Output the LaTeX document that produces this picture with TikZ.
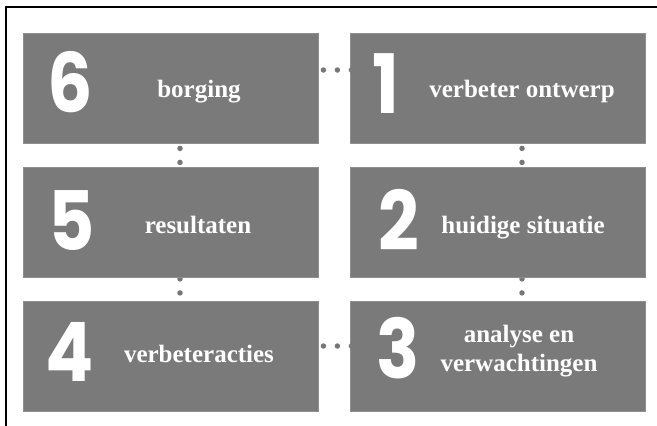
\documentclass[tikz,border=0pt]{standalone}
\usepackage{fontspec}
\setmainfont{Liberation Serif}
\newfontfamily\digitfont{Poppins}
\usetikzlibrary{calc}
\definecolor{boxgray}{HTML}{7A7A7A}
\definecolor{dotgray}{HTML}{777777}
\newcommand{\bigdigit}[1]{\scalebox{0.87}[1]{#1}}
\tikzset{
  stepbox/.style={rectangle, fill=boxgray, draw=boxgray!85!white, line width=0.8pt, minimum width=295pt, minimum height=110pt, inner sep=0pt},
  bignum/.style={text=white, font=\digitfont\bfseries\fontsize{82}{82}\selectfont, inner sep=0pt},
  label/.style={text=white, font=\bfseries\fontsize{25}{29}\selectfont, inner sep=0pt, anchor=base, align=center},
  dotconn/.style={dotgray, line width=5.5pt, line cap=round, dash pattern=on 0pt off 14pt},
  frameline/.style={black, line width=1.2pt}
}
\begin{document}
\begin{tikzpicture}[x=1pt, y=-1pt]
\useasboundingbox (0,0) rectangle (657,426);
\fill[white] (0,0) rectangle (657,426);
\coordinate (ftl) at (6,7);
\coordinate (ftr) at (657,7);
\coordinate (fbl) at (6,426);
\draw[frameline] (ftr) -- (ftl) -- (fbl);

\coordinate (c61a) at (318,70);  \coordinate (c61b) at (350,70);
\coordinate (c43a) at (318,346); \coordinate (c43b) at (350,346);

\node[stepbox] (b6) at (170.5,88) {};
\node[stepbox] (b1) at (497.5,88) {};
\node[stepbox] (b5) at (170.5,222.5) {};
\node[stepbox] (b2) at (497.5,222.5) {};
\node[stepbox] (b4) at (170.5,356.5) {};
\node[stepbox] (b3) at (497.5,356.5) {};

\begin{scope}
\clip (318,0) rectangle (350.5,426);
\draw[dotconn, dash phase=9pt] (b6.east |- c61a) -- ($(b1.west |- c61b)+(6,0)$);
\draw[dotconn, dash phase=9pt] (b4.east |- c43a) -- ($(b3.west |- c43b)+(6,0)$);
\end{scope}
\draw[dotconn, dash phase=9pt] ($(b6.south)+(9.5,0)$) -- ($(b5.north)+(9.5,0)$);
\draw[dotconn, dash phase=9pt] ($(b1.south)+(24.5,0)$) -- ($(b2.north)+(24.5,0)$);
\begin{scope}
\clip (0,278.3) rectangle (657,302);
\draw[dotconn, dash phase=13pt] ($(b5.south)+(9.5,0)$) -- ($(b4.north)+(9.5,0)$);
\draw[dotconn, dash phase=13pt] ($(b2.south)+(24.5,0)$) -- ($(b3.north)+(24.5,0)$);
\end{scope}

\node[bignum] (n6) at (70,82) {\bigdigit{6}};
\node[bignum] (n1) at (386,84) {\bigdigit{1}};
\node[bignum] (n5) at (72,221) {\bigdigit{5}};
\node[bignum] (n2) at (399,220) {\bigdigit{2}};
\node[bignum] (n4) at (70,352) {\bigdigit{4}};
\node[bignum] (n3) at (398,348) {\bigdigit{3}};

\node[label] (t6) at (199,97) {borging};
\node[label] (t1) at (522,97) {verbeter ontwerp};
\node[label] (t5) at (198,233) {resultaten};
\node[label] (t2) at (523,233) {huidige situatie};
\node[label] (t4) at (199,362) {verbeteracties};
\node[label, anchor=north] (t3) at (519,325) {analyse en\\verwachtingen};
\end{tikzpicture}
\end{document}
